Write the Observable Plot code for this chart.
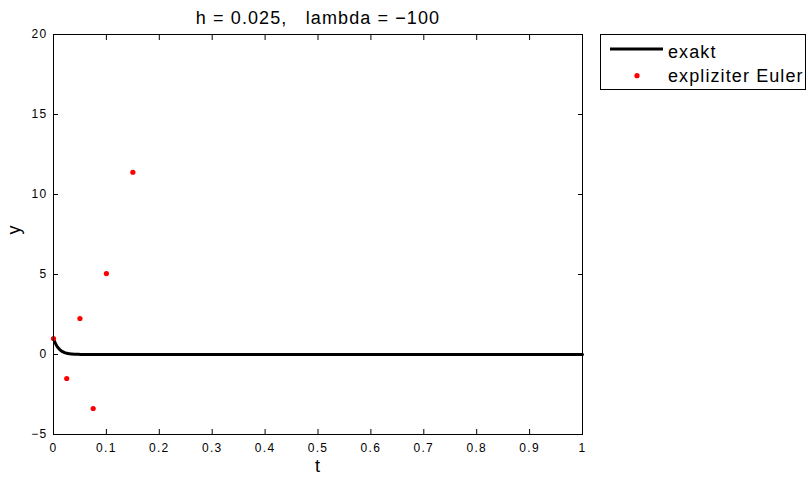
<!DOCTYPE html>
<html>
<head>
<meta charset="utf-8">
<script src="https://cdn.jsdelivr.net/npm/d3@7"></script>
<script src="https://cdn.jsdelivr.net/npm/@observablehq/plot@0.6"></script>
<style>
  html, body { margin: 0; padding: 0; background: #fff; }
  #chart svg { display: block; }
</style>
</head>
<body>
<div id="chart"></div>
<script>
// ---- data ----
const titleText = "h = 0.025,   lambda = \u2212100";
const xLabel = "t";
const yLabel = "y";
const seriesNames = ["exakt", "expliziter Euler"];

// exact solution (sampled from the drawn curve)
const exaktT = [0, 0.003, 0.006, 0.01, 0.015, 0.02, 0.025, 0.03, 0.04, 0.05, 0.06, 0.08, 0.1, 0.2, 0.4, 0.6, 0.8, 1];
const exaktY = [1, 0.74, 0.55, 0.37, 0.22, 0.135, 0.082, 0.05, 0.018, 0.007, 0.0025, 0.0003, 0, 0, 0, 0, 0, 0];

// explicit Euler points visible in the picture
const eulerT = [0, 0.025, 0.05, 0.075, 0.1, 0.15];
const eulerY = [1, -1.5, 2.25, -3.375, 5.06, 11.39];

// ticks
const xTicks = [0, 0.1, 0.2, 0.3, 0.4, 0.5, 0.6, 0.7, 0.8, 0.9, 1];
const xTickLabels = ["0", "0.1", "0.2", "0.3", "0.4", "0.5", "0.6", "0.7", "0.8", "0.9", "1"];
const yTicks = [-5, 0, 5, 10, 15, 20];
const yTickLabels = ["\u22125", "0", "5", "10", "15", "20"];

const exakt = exaktT.map((t, i) => ({t, y: exaktY[i]}));
const euler = eulerT.map((t, i) => ({t, y: eulerY[i]}));
const xMap = new Map(xTicks.map((v, i) => [v, xTickLabels[i]]));
const yMap = new Map(yTicks.map((v, i) => [v, yTickLabels[i]]));

const font = "'Liberation Sans', Arial, Helvetica, sans-serif";

const chart = Plot.plot({
  width: 808,
  height: 478,
  marginLeft: 53,
  marginRight: 226,
  marginTop: 34,
  marginBottom: 44,
  x: {domain: [0, 1]},
  y: {domain: [-5, 20]},
  style: {fontFamily: font, fontSize: "12px", color: "black", background: "white", overflow: "visible"},
  marks: [
    Plot.line(exakt, {x: "t", y: "y", stroke: "black", strokeWidth: 3, curve: "monotone-x"}),
    Plot.dot(euler, {x: "t", y: "y", r: 2.6, fill: "#ff0000", stroke: "none"}),
    Plot.frame({stroke: "black", strokeWidth: 1}),
    Plot.axisX(xTicks, {anchor: "bottom", tickSize: -5, tickPadding: 14, tickFormat: d => xMap.get(d), label: null, fontSize: 12}),
    Plot.axisX(xTicks, {anchor: "top", tickSize: -5, tickFormat: () => "", label: null}),
    Plot.axisY(yTicks, {anchor: "left", tickSize: -5, tickPadding: 11, tickFormat: d => yMap.get(d), label: null, fontSize: 12}),
    Plot.axisY(yTicks, {anchor: "right", tickSize: -5, tickFormat: () => "", label: null}),
    Plot.text([titleText], {frameAnchor: "top", dy: -11, lineAnchor: "bottom", fontSize: 18}),
    Plot.text([xLabel], {frameAnchor: "bottom", dy: 37, lineAnchor: "bottom", fontSize: 18}),
    Plot.text([yLabel], {frameAnchor: "left", dx: -33.5, rotate: -90, lineAnchor: "bottom", fontSize: 18})
  ]
});

const svg = d3.select(chart);
svg.selectAll('g[aria-label="x-axis tick label"] text, g[aria-label="y-axis tick label"] text')
  .style("letter-spacing", "1.3px");
svg.selectAll('g[aria-label="text"] text').style("letter-spacing", "1.1px");

// legend
const lg = svg.append("g").attr("aria-label", "legend")
  .attr("font-family", font).attr("font-size", 18).attr("text-anchor", "start");
lg.append("rect").attr("x", 600.5).attr("y", 34.5).attr("width", 205).attr("height", 55)
  .attr("fill", "white").attr("stroke", "black").attr("stroke-width", 1);
lg.append("line").attr("x1", 610).attr("x2", 663).attr("y1", 49).attr("y2", 49)
  .attr("stroke", "black").attr("stroke-width", 3);
lg.append("text").attr("x", 668).attr("y", 58.3).attr("text-anchor", "start")
  .style("letter-spacing", "1.1px").text(seriesNames[0]);
lg.append("circle").attr("cx", 637).attr("cy", 75.7).attr("r", 2.6).attr("fill", "#ff0000");
lg.append("text").attr("x", 668).attr("y", 82.3).attr("text-anchor", "start")
  .style("letter-spacing", "1.1px").text(seriesNames[1]);

document.getElementById("chart").appendChild(chart);
</script>
</body>
</html>
